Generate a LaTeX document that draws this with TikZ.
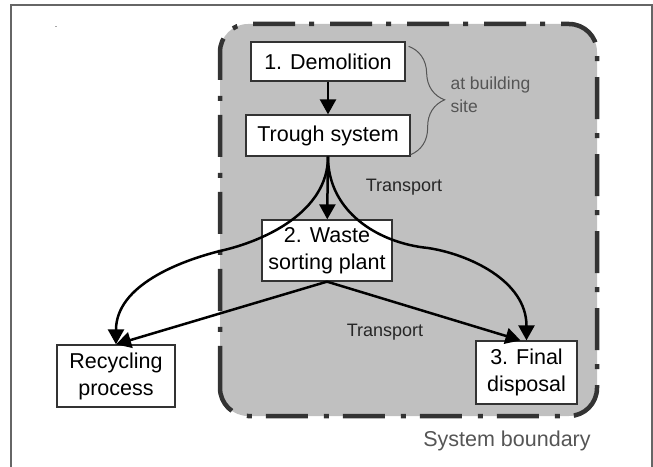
\documentclass[tikz,border=0pt]{standalone}
\usepackage{fontspec}
\setmainfont{Liberation Sans}
\usepackage{xcolor}
\usepackage{tikz}
\usetikzlibrary{positioning, arrows.meta, decorations.pathreplacing}
\definecolor{boundfill}{HTML}{C0C0C0}
\definecolor{bounddash}{HTML}{333333}
\definecolor{notegray}{HTML}{555555}
\tikzstyle{block} = [rectangle, text centered, align=center, draw=bounddash, line width=1.3pt, fill=white, font=\fontsize{21.5}{27}\selectfont]
\tikzstyle{arrow} = [line width=2.5pt,->,>={Triangle[length=15pt,width=16pt]}]
\tikzstyle{boundary} = [rounded corners=28pt, fill=boundfill, draw=bounddash, line width=4.5pt, dash pattern=on 42pt off 14pt on 5pt off 16pt]
\tikzstyle{note} = [text=notegray, align=left, font=\fontsize{17.5}{23}\selectfont]
\tikzstyle{transp} = [text=black!85, font=\fontsize{18}{22}\selectfont]
\tikzstyle{bracegray} = [decorate, decoration={brace, amplitude=35pt}, draw=notegray, line width=1pt]

\begin{document}
\begin{tikzpicture}[x=1pt, y=1pt, node distance=74pt]
	\useasboundingbox (0,0) rectangle (653,466);
	\draw [draw=black!60, line width=1.5pt] (11,-2) -- (11,461) -- (652,461) -- (652,-2);
	\draw [boundary] (220,50) rectangle (597,442);
	\node (mark) at (56,438) {\fontsize{6}{6}\selectfont -};

	\node (demol) [block, minimum width=154pt, minimum height=39pt] at (328,404.5) {1. Demolition};
	\node (trough) [block, below of=demol, minimum width=164pt, minimum height=41pt] {Trough system};
	\node (waste) [block, below of=trough, xshift=-1pt, yshift=-41pt, minimum width=130pt, minimum height=61pt] {2. Waste\\sorting plant};
	\node (recyc) [block, left of=waste, xshift=-137pt, yshift=-125.5pt, minimum width=118pt, minimum height=62pt] {Recycling\\process};
	\node (final) [block, right of=waste, xshift=125.5pt, yshift=-122pt, minimum width=101pt, minimum height=63pt] {3. Final\\disposal};
	\node (site) [note, right of=trough, anchor=west, xshift=45pt, yshift=41pt] {at building\\site};
	\node (tr1) [transp, right of=trough, xshift=2pt, yshift=-51.5pt] {Transport};
	\node (tr2) [transp, right of=waste, xshift=-16pt, yshift=-81.5pt] {Transport};
	\node (sysb) [text=notegray, font=\fontsize{21.5}{26}\selectfont, below of=final, xshift=-19.5pt, yshift=5.5pt] {System boundary};
	\coordinate (lmid) at (220,215);
	\coordinate (rmid) at (428,218);

	\draw [bracegray] ([xshift=3pt,yshift=-5pt]demol.north east) -- ([yshift=2pt]trough.south east);
	\draw [arrow] (demol) -- (trough);
	\draw [arrow] (trough) -- (waste);
	\draw [arrow] (trough.south) .. controls +(0,-55) and +(45,10) .. (lmid) .. controls +(-40,-10) and +(0,59) .. (recyc.north);
	\draw [arrow] (trough.south) .. controls +(0,-55) and +(-50,5) .. (rmid) .. controls +(40,-6) and +(0,60) .. (final.north);
	\draw [arrow] (waste.south) -- (recyc.north);
	\draw [arrow] (waste.south) -- ([xshift=-6pt]final.north);
\end{tikzpicture}
\end{document}
